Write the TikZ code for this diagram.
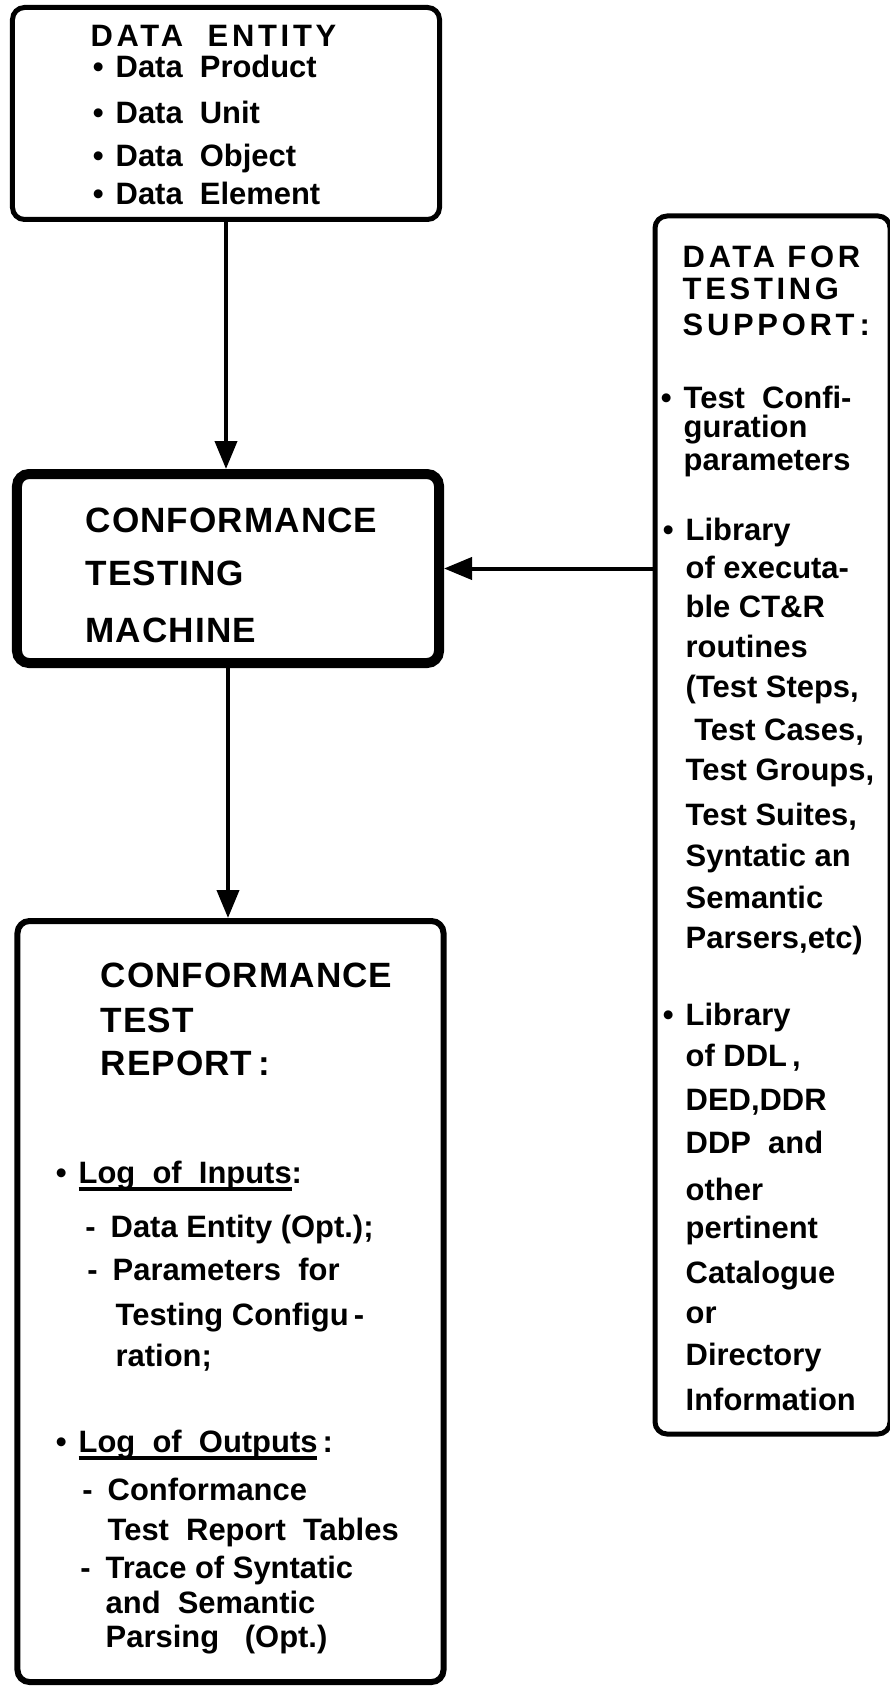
\documentclass[tikz,border=0pt]{standalone}
\usepackage{fontspec}
\setmainfont{Liberation Sans}
\newfontfamily\headfont{Liberation Sans}[LetterSpace=12]
\newfontfamily\bigheadfont{Liberation Sans}[LetterSpace=3]
\usetikzlibrary{arrows.meta}

\newcommand{\blt}{\llap{\textbullet\hspace{1.2mm}}}
\newcommand{\dsh}{\llap{-\hspace{1.5mm}}}
\newcommand{\logul}[1]{\setbox0\hbox{#1}\rlap{\rule[-0.75mm]{\wd0}{0.35mm}}\box0}

\begin{document}
\begin{tikzpicture}[>={Triangle[length=2.8mm,width=2.2mm]},
    box/.style={draw, rectangle, rounded corners=1.2mm, inner sep=0},
    txt/.style={anchor=base west, inner sep=0, font=\bfseries\fontsize{8.8}{10}\selectfont},
    head/.style={txt, font=\headfont\bfseries\fontsize{8.8}{10}\selectfont},
    bighead/.style={txt, font=\bigheadfont\bfseries\fontsize{10}{12}\selectfont}]
    \useasboundingbox (0,0) rectangle (8.9,-16.86);

    % boxes
    \node[box, line width=0.5mm, minimum width=4.27cm, minimum height=2.12cm] (entity) at (2.26,-1.135) {};
    \node[box, line width=1mm, minimum width=4.22cm, minimum height=1.89cm] (machine) at (2.28,-5.685) {};
    \node[box, line width=0.6mm, minimum width=4.26cm, minimum height=7.61cm] (report) at (2.305,-13.015) {};
    \node[box, line width=0.5mm, minimum width=2.35cm, minimum height=12.18cm] (support) at (7.725,-8.25) {};

    % data entity
    \node[head] (entity-h) at (0.90,-0.47) {DATA\ \ ENTITY};
    \foreach \y/\t [count=\i] in {0.78/Product, 1.24/Unit, 1.66/Object, 2.05/Element}
        \node[txt] (entity-\i) at (1.15,-\y) {\blt Data\ \ \t};

    % machine
    \foreach \y/\t [count=\i] in {5.32/CONFORMANCE, 5.85/TESTING, 6.42/MACHINE}
        \node[bighead] (machine-\i) at (0.85,-\y) {\t};

    % testing support
    \foreach \y/\t [count=\i] in {2.67/DATA FOR, 3.00/TESTING, 3.35/{SUPPORT\,:}}
        \node[head] (support-h\i) at (6.82,-\y) {\t};
    \foreach \y/\t [count=\i] in {4.08/{\blt Test\ \ Confi-}, 4.37/guration, 4.70/parameters}
        \node[txt] (support-a\i) at (6.83,-\y) {\t};
    \foreach \y/\t [count=\i] in {5.40/{\blt Library}, 5.78/{of executa-}, 6.17/{ble CT\&R}, 6.57/routines,
        6.97/{(Test Steps,}, 7.40/{\ Test Cases,}, 7.80/{Test Groups,}, 8.25/{Test Suites,},
        8.66/{Syntatic an}, 9.08/Semantic, 9.48/{Parsers,etc)}}
        \node[txt] (support-b\i) at (6.85,-\y) {\t};
    \foreach \y/\t [count=\i] in {10.25/{\blt Library}, 10.66/{of DDL\,,}, 11.10/{DED,DDR}, 11.53/{DDP\ \ and},
        12.00/other, 12.38/pertinent, 12.83/Catalogue, 13.23/or, 13.65/Directory, 14.10/Information}
        \node[txt] (support-c\i) at (6.85,-\y) {\t};

    % report
    \foreach \y/\t [count=\i] in {9.87/CONFORMANCE, 10.32/TEST, 10.75/{REPORT\,:}}
        \node[bighead] (report-h\i) at (1.00,-\y) {\t};
    \node[txt] (report-in) at (0.78,-11.83) {\blt\logul{Log\ \ of\ \ Inputs}:};
    \foreach \y/\x/\t [count=\i] in {12.37/1.10/{\dsh Data Entity (Opt.);}, 12.80/1.12/{\dsh Parameters\ \ for},
        13.25/1.15/{Testing Configu\,-}, 13.66/1.15/{ration;}}
        \node[txt] (report-in\i) at (\x,-\y) {\t};
    \node[txt] (report-out) at (0.78,-14.52) {\blt\logul{Log\ \ of\ \ Outputs}\,:};
    \foreach \y/\x/\t [count=\i] in {15.00/1.07/{\dsh Conformance}, 15.40/1.07/{Test\ \ Report\ \ Tables},
        15.78/1.05/{\dsh Trace of Syntatic}, 16.13/1.05/{and\ \ Semantic}, 16.47/1.05/{Parsing\ \ \ (Opt.)}}
        \node[txt] (report-out\i) at (\x,-\y) {\t};

    \draw[->, line width=0.4mm] (entity.south) -- (entity.south |- machine.north);
    \draw[->, line width=0.4mm] (machine.south) -- (machine.south |- report.north);
    \draw[->, line width=0.4mm] (support.west |- machine.east) -- (machine.east);
\end{tikzpicture}
\end{document}
